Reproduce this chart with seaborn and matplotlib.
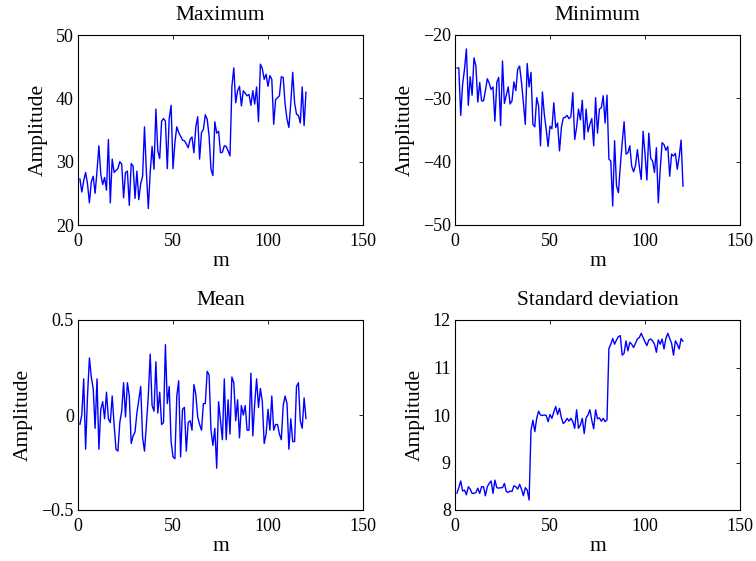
import numpy as np
import pandas as pd
import matplotlib
matplotlib.use("Agg")
import matplotlib.pyplot as plt
import seaborn as sns

m = list(range(1, 121))

max_vals = [27.3, 25.2, 27.0, 28.3, 26.5, 23.5, 26.8, 27.7, 25.0, 28.5,
            32.5, 28.0, 26.4, 27.5, 25.5, 33.5, 23.5, 30.4, 28.3, 28.6,
            28.9, 30.0, 29.6, 24.3, 28.3, 28.5, 23.1, 29.7, 29.3, 24.2,
            28.5, 24.0, 26.5, 27.7, 35.5, 28.3, 22.6, 28.3, 32.4, 28.8,
            38.3, 31.7, 30.5, 36.4, 36.8, 36.4, 28.9, 36.8, 38.9, 28.9,
            33.0, 35.5, 34.6, 34.0, 33.4, 33.3, 32.8, 32.2, 33.5, 33.9,
            31.4, 35.5, 37.1, 30.4, 34.6, 35.1, 37.4, 36.7, 34.0, 28.8,
            27.8, 36.3, 34.5, 34.8, 31.4, 31.5, 32.5, 32.4, 31.7, 30.9,
            41.9, 44.8, 39.3, 41.2, 41.9, 38.8, 41.2, 40.8, 40.4, 40.6,
            38.9, 41.2, 39.1, 41.8, 36.3, 45.4, 44.7, 43.0, 43.8, 41.9,
            43.6, 43.0, 35.9, 39.8, 40.1, 40.4, 43.4, 43.3, 39.1, 36.7,
            35.4, 39.3, 44.1, 39.3, 37.5, 37.3, 36.1, 41.8, 35.7, 41.0]

min_vals = [-25.2, -25.2, -32.7, -27.8, -25.4, -22.2, -31.1, -26.6, -29.5, -23.6,
            -24.9, -30.6, -27.5, -30.4, -30.4, -28.8, -26.9, -27.6, -28.6, -28.2,
            -33.6, -27.5, -26.7, -34.3, -24.1, -30.8, -29.5, -28.2, -30.9, -30.4,
            -27.4, -28.8, -25.4, -24.9, -27.5, -30.7, -34.1, -24.5, -28.2, -25.9,
            -34.1, -34.5, -29.9, -31.2, -37.5, -29.0, -32.5, -34.9, -37.6, -34.4,
            -34.8, -30.7, -34.6, -33.9, -38.3, -34.6, -33.1, -33.0, -32.7, -33.2,
            -32.9, -29.1, -36.5, -34.6, -31.7, -33.4, -30.3, -36.5, -31.7, -35.3,
            -34.1, -33.2, -37.5, -29.9, -35.5, -31.7, -31.5, -29.6, -33.9, -29.5,
            -39.6, -39.9, -47.0, -36.7, -43.8, -44.9, -40.7, -37.0, -33.7, -38.8,
            -38.6, -37.5, -40.7, -41.6, -40.6, -38.1, -40.7, -42.8, -35.2, -38.8,
            -42.9, -35.5, -39.5, -39.9, -41.7, -37.8, -46.5, -41.2, -37.0, -37.3,
            -38.2, -37.6, -42.3, -38.8, -39.1, -38.7, -41.2, -39.2, -36.6, -43.9]

mean_vals = [-0.05, 0.00, 0.19, -0.18, 0.10, 0.30, 0.20, 0.14, -0.07, 0.19,
             -0.18, 0.03, 0.07, -0.02, 0.12, -0.02, -0.04, 0.10, -0.05, -0.18,
             -0.19, -0.04, 0.02, 0.17, -0.01, 0.17, 0.10, -0.15, -0.11, -0.09,
             0.01, 0.08, 0.15, -0.12, -0.19, -0.05, 0.10, 0.32, 0.05, 0.02,
             0.28, 0.01, 0.12, -0.05, -0.04, 0.37, 0.06, 0.15, -0.14, -0.22,
             -0.23, 0.10, 0.18, -0.22, 0.03, 0.04, -0.19, -0.04, -0.03, -0.08,
             0.16, 0.11, -0.01, -0.05, -0.08, 0.06, 0.06, 0.23, 0.21, -0.08,
             -0.16, -0.07, -0.28, 0.07, -0.03, -0.13, 0.19, -0.13, 0.08, -0.10,
             0.20, 0.17, -0.03, 0.08, -0.12, 0.05, 0.00, 0.05, -0.08, -0.08,
             0.22, -0.11, 0.06, 0.19, 0.04, 0.14, 0.07, -0.15, -0.10, 0.03,
             -0.08, 0.10, -0.08, -0.05, -0.05, -0.10, -0.13, 0.05, 0.10, 0.06,
             -0.18, -0.02, -0.14, -0.14, 0.15, 0.17, -0.03, -0.07, 0.09, -0.02]

std_vals = [8.35, 8.47, 8.61, 8.40, 8.42, 8.32, 8.49, 8.44, 8.35, 8.35,
            8.37, 8.46, 8.35, 8.49, 8.49, 8.30, 8.49, 8.56, 8.61, 8.35,
            8.63, 8.47, 8.46, 8.47, 8.47, 8.56, 8.39, 8.37, 8.40, 8.39,
            8.51, 8.49, 8.44, 8.54, 8.44, 8.30, 8.47, 8.42, 8.21, 9.68,
            9.89, 9.65, 9.93, 10.08, 10.00, 9.99, 10.00, 9.99, 9.86, 10.01,
            9.93, 10.06, 10.18, 10.01, 10.14, 9.94, 9.82, 9.86, 9.93, 9.87,
            9.93, 9.86, 9.72, 10.11, 9.72, 9.79, 9.93, 9.61, 9.94, 10.00,
            10.11, 9.89, 9.71, 10.11, 9.92, 9.94, 9.87, 9.93, 9.86, 9.90,
            11.40, 11.49, 11.61, 11.49, 11.58, 11.65, 11.67, 11.26, 11.30, 11.56,
            11.35, 11.53, 11.49, 11.42, 11.51, 11.60, 11.63, 11.72, 11.63, 11.54,
            11.46, 11.58, 11.60, 11.56, 11.49, 11.32, 11.58, 11.49, 11.60, 11.39,
            11.61, 11.72, 11.61, 11.51, 11.26, 11.56, 11.49, 11.39, 11.61, 11.55]

titles = ["Maximum", "Minimum", "Mean", "Standard deviation"]
ylims = [(20, 50), (-50, -20), (-0.5, 0.5), (8, 12)]
yticks = [[20, 30, 40, 50], [-50, -40, -30, -20], [-0.5, 0, 0.5], [8, 9, 10, 11, 12]]
ytick_labels = [["20", "30", "40", "50"], ["\u221250", "\u221240", "\u221230", "\u221220"],
                ["\u22120.5", "0", "0.5"], ["8", "9", "10", "11", "12"]]
xticks = [0, 50, 100, 150]

sns.set_style("white")
plt.rcParams["font.family"] = ["Liberation Serif", "DejaVu Serif"]
plt.rcParams["font.size"] = 12
for k in ["text.color", "axes.labelcolor", "xtick.color", "ytick.color", "axes.edgecolor"]:
    plt.rcParams[k] = "black"

fig = plt.figure(figsize=(7.56, 5.61), dpi=100)
W, H = 756.0, 561.0
positions = [(78, 35), (455, 35), (78, 320), (455, 320)]
aw, ah = 285.0, 190.0

series = [max_vals, min_vals, mean_vals, std_vals]
for i, vals in enumerate(series):
    x0, y0 = positions[i]
    ax = fig.add_axes([x0 / W, 1 - (y0 + ah) / H, aw / W, ah / H])
    df = pd.DataFrame({"m": m, "Amplitude": vals})
    sns.lineplot(data=df, x="m", y="Amplitude", ax=ax, color=(0, 0, 1), linewidth=1.0)
    ax.set_xlim(0, 150)
    ax.set_ylim(*ylims[i])
    ax.set_xticks(xticks)
    ax.set_xticklabels([str(t) for t in xticks])
    ax.set_yticks(yticks[i])
    ax.set_yticklabels(ytick_labels[i])
    ax.set_title(titles[i], fontsize=15.5, pad=11, color="black")
    ax.set_xlabel("m", fontsize=15.5, labelpad=1, color="black")
    ax.set_ylabel("Amplitude", fontsize=15.5, labelpad=6, color="black")
    ax.tick_params(direction="in", top=True, right=True, length=3, width=0.6,
                   labelsize=13, colors="black")
    ax.tick_params(axis="x", pad=6)
    ax.tick_params(axis="y", pad=3)
    for sp in ax.spines.values():
        sp.set_visible(True)
        sp.set_color("black")
        sp.set_linewidth(0.8)

fig.savefig("out.png", dpi=100)
